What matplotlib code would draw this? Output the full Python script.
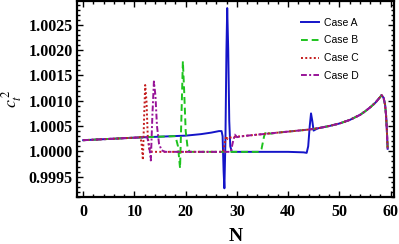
import matplotlib
matplotlib.use("Agg")
import matplotlib.pyplot as plt
from matplotlib.ticker import MultipleLocator, FormatStrFormatter

# shared tail of all four cases (N >= 46)
tail_N = [46, 48, 50, 52, 54, 55, 56, 57, 57.5, 58, 58.2, 58.6, 58.9, 59.1, 59.25, 59.4]
tail_c = [1.00046, 1.00050, 1.00055, 1.00062, 1.00072, 1.00079, 1.00087, 1.00096,
          1.00102, 1.00108, 1.00111, 1.00106, 1.00092, 1.00070, 1.00040, 1.00005]

caseA_N = [0, 5, 10, 15, 20, 23, 25, 26.5, 27.0, 27.2, 27.4, 27.55, 27.75, 27.95, 28.1,
           28.3, 28.5, 28.7, 29.0, 29.5, 32, 36, 40, 43, 43.6, 43.9, 44.2, 44.45, 44.7,
           44.95, 45.3, 45.7]
caseA_c = [1.00022, 1.000245, 1.00027, 1.00029, 1.00031, 1.00034, 1.00037, 1.00040,
           1.00040, 1.00030, 0.99960, 0.99927, 1.00020, 1.00200, 1.00283, 1.00200,
           1.00060, 1.00010, 0.99999, 0.99999, 0.99999, 0.99999, 0.99999, 0.99998,
           0.99997, 1.00010, 1.00050, 1.00075, 1.00060, 1.00041, 1.00043, 1.00045]

caseB_N = [0, 5, 10, 15, 18.0, 18.5, 18.9, 19.2, 19.45, 19.7, 20.0, 20.4, 20.8, 22, 26,
           30, 34.3, 34.8, 35.3, 35.7, 36.1, 36.6, 38, 40, 42, 44]
caseB_c = [1.00022, 1.000245, 1.00027, 1.00029, 1.00030, 1.00010, 0.99967, 1.00080,
           1.00178, 1.00120, 1.00040, 1.00005, 0.99999, 0.99999, 0.99999, 0.99999,
           0.99999, 1.00005, 1.00030, 1.00040, 1.00036, 1.00035, 1.00037, 1.00039,
           1.00041, 1.00043]

caseC_N = [0, 5, 10, 11.2, 11.45, 11.65, 11.9, 12.1, 12.35, 12.6, 12.9, 13.5, 16, 20,
           25, 27.3, 27.6, 27.9, 28.2, 28.6, 30, 32, 35, 38, 40, 42, 44]
caseC_c = [1.00022, 1.000245, 1.00027, 1.00028, 1.00010, 0.99983, 1.00070, 1.00131,
           1.00100, 1.00030, 1.00003, 0.99999, 0.99999, 0.99999, 0.99999, 0.99999,
           1.00015, 1.00030, 1.00024, 1.00027, 1.00029, 1.00031, 1.00034, 1.00037,
           1.00039, 1.00041, 1.00043]

caseD_N = [0, 5, 10, 12.5, 12.9, 13.2, 13.5, 13.8, 14.1, 14.4, 14.8, 15.3, 16, 20, 25,
           28.8, 29.2, 29.6, 30.0, 30.5, 32, 35, 38, 40, 42, 44]
caseD_c = [1.00022, 1.000245, 1.00027, 1.00028, 1.00010, 0.99982, 1.00070, 1.00138,
           1.00110, 1.00050, 1.00015, 1.00002, 0.99999, 0.99999, 0.99999, 0.99999,
           1.00018, 1.00033, 1.00028, 1.00029, 1.00031, 1.00034, 1.00037, 1.00039,
           1.00041, 1.00043]

labels = ["Case A", "Case B", "Case C", "Case D"]

plt.rcParams['mathtext.fontset'] = 'stix'

fig = plt.figure(figsize=(3.99, 2.44), dpi=100)
ax = fig.add_axes([0.193, 0.193, 0.794, 0.803])

ax.plot(caseA_N + tail_N, caseA_c + tail_c, color='#1414c8', lw=1.4, ls='-', label=labels[0])
ax.plot(caseB_N + tail_N, caseB_c + tail_c, color='#1ec31e', lw=1.4, ls=(0, (3.5, 2)), label=labels[1])
ax.plot(caseC_N + tail_N, caseC_c + tail_c, color='#c41c1c', lw=1.4, ls=(0, (1, 1.2)), label=labels[2])
ax.plot(caseD_N + tail_N, caseD_c + tail_c, color='#981498', lw=1.4, ls=(0, (3, 1.2, 1, 1.2)), label=labels[3])

ax.set_xlim(-1.2, 60.6)
ax.set_ylim(0.99910, 1.00297)

ax.xaxis.set_major_locator(MultipleLocator(10))
ax.xaxis.set_minor_locator(MultipleLocator(2))
ax.yaxis.set_major_locator(MultipleLocator(0.0005))
ax.yaxis.set_minor_locator(MultipleLocator(0.0001))
ax.yaxis.set_major_formatter(FormatStrFormatter('%.4f'))

ax.tick_params(which='both', direction='in', top=True, right=True, width=1.0)
ax.tick_params(which='major', length=4, pad=3)
ax.tick_params(axis='x', which='major', pad=5)
ax.tick_params(which='minor', length=2)
for lab in ax.get_xticklabels() + ax.get_yticklabels():
    lab.set_family('Liberation Serif')
    lab.set_fontweight('bold')
    lab.set_fontsize(11.5)
for sp in ax.spines.values():
    sp.set_linewidth(1.6)

ax.set_xlabel("N", family='Liberation Serif', fontweight='bold', fontsize=14, labelpad=6)
ax.set_ylabel(r"$c_t^{\,2}$", fontsize=13, labelpad=3)

ax.legend(loc='upper left', frameon=False, prop={'family': 'Liberation Sans', 'size': 7.5},
          handlelength=1.75, handletextpad=0.45, labelspacing=0.75,
          borderpad=0, borderaxespad=0, bbox_to_anchor=(0.707, 0.915))

fig.savefig("out.png", dpi=100)
